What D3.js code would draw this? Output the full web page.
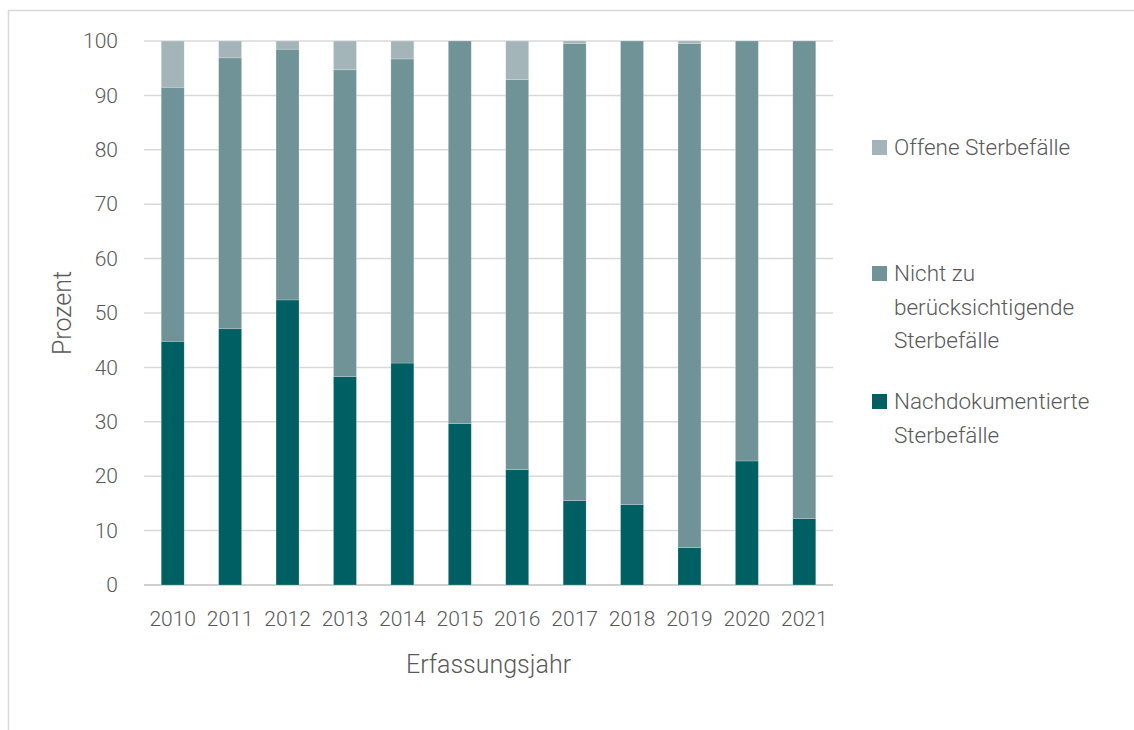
<!DOCTYPE html>
<html>
<head>
<meta charset="utf-8">
<script src="https://cdn.jsdelivr.net/npm/d3@7"></script>
<style>
  body { margin: 0; background: #fff; }
  text { font-family: Roboto, sans-serif; font-weight: 300; fill: #595959; }
</style>
</head>
<body>
<div id="chart"></div>
<script>
const years = ["2010","2011","2012","2013","2014","2015","2016","2017","2018","2019","2020","2021"];
const nachdokumentiert = [44.8, 47.1, 52.4, 38.3, 40.8, 29.7, 21.2, 15.5, 14.8, 6.9, 22.8, 12.2];
const nichtZuBeruecksichtigen = [46.7, 49.8, 46.1, 56.4, 55.9, 70.3, 71.7, 84.0, 85.2, 92.6, 77.2, 87.8];
const offen = [8.5, 3.1, 1.5, 5.3, 3.3, 0, 7.1, 0.5, 0, 0.5, 0, 0];
const yTicks = [0, 10, 20, 30, 40, 50, 60, 70, 80, 90, 100];
const seriesKeys = ["nach", "nicht", "offen"];
const seriesNames = {
  offen: ["Offene Sterbefälle"],
  nicht: ["Nicht zu", "berücksichtigende", "Sterbefälle"],
  nach: ["Nachdokumentierte", "Sterbefälle"]
};
const colors = { nach: "#005f62", nicht: "#6f9396", offen: "#a3b5b8" };

const width = 1134, height = 730;
const margin = { top: 41, left: 144, right: 301, bottom: 145 };

const svg = d3.select("#chart").append("svg")
  .attr("width", width)
  .attr("height", height);

// outer frame
svg.append("rect")
  .attr("x", 8.5).attr("y", 10.5)
  .attr("width", 1200).attr("height", 800)
  .attr("fill", "none").attr("stroke", "#d9d9d9").attr("stroke-width", 1.5);

const x = d3.scaleBand()
  .domain(years)
  .range([margin.left, width - margin.right])
  .paddingInner(0.6)
  .paddingOuter(0.3);

const y = d3.scaleLinear()
  .domain([0, 100])
  .range([height - margin.bottom, margin.top]);

// gridlines
svg.append("g")
  .selectAll("line")
  .data(yTicks)
  .join("line")
  .attr("x1", margin.left).attr("x2", width - margin.right)
  .attr("y1", d => y(d)).attr("y2", d => y(d))
  .attr("stroke", d => d === 0 ? "#d0d0d0" : "#d9d9d9")
  .attr("stroke-width", d => d === 0 ? 2 : 1.5);

const table = years.map((yr, i) => ({
  year: yr, nach: nachdokumentiert[i], nicht: nichtZuBeruecksichtigen[i], offen: offen[i]
}));
const stacked = d3.stack().keys(seriesKeys)(table);

svg.append("g")
  .selectAll("g")
  .data(stacked)
  .join("g")
  .attr("fill", d => colors[d.key])
  .selectAll("rect")
  .data(d => d)
  .join("rect")
  .attr("x", d => x(d.data.year))
  .attr("width", x.bandwidth())
  .attr("y", d => y(d[1]))
  .attr("height", d => y(d[0]) - y(d[1]))
  .attr("stroke", "rgba(255,255,255,0.35)")
  .attr("stroke-width", 0.6);

// y axis labels
const yAxis = d3.axisLeft(y).tickValues(yTicks).tickSize(0).tickPadding(26);
svg.append("g")
  .attr("transform", `translate(${margin.left},0)`)
  .call(yAxis)
  .call(g => g.select(".domain").remove())
  .selectAll("text")
  .attr("font-size", 21)
  .attr("font-family", "Roboto, sans-serif")
  .attr("fill", "#595959");

// x axis labels
const xAxis = d3.axisBottom(x).tickSize(0).tickPadding(26);
svg.append("g")
  .attr("transform", `translate(0,${height - margin.bottom})`)
  .call(xAxis)
  .call(g => g.select(".domain").remove())
  .selectAll("text")
  .attr("font-size", 21)
  .attr("font-family", "Roboto, sans-serif")
  .attr("fill", "#595959");

// axis titles
svg.append("text")
  .attr("x", (margin.left + width - margin.right) / 2)
  .attr("y", 673)
  .attr("text-anchor", "middle")
  .attr("font-size", 25)
  .text("Erfassungsjahr");

svg.append("text")
  .attr("transform", `translate(71,${(margin.top + height - margin.bottom) / 2}) rotate(-90)`)
  .attr("text-anchor", "middle")
  .attr("font-size", 25)
  .text("Prozent");

// legend
const legendItems = [
  { key: "offen", top: 147 },
  { key: "nicht", top: 273 },
  { key: "nach", top: 401 }
];
const legend = svg.append("g");
legendItems.forEach(item => {
  legend.append("rect")
    .attr("x", 872).attr("y", item.top - 7)
    .attr("width", 15).attr("height", 15)
    .attr("fill", colors[item.key]);
  const t = legend.append("text")
    .attr("x", 894).attr("y", item.top + 8)
    .attr("font-size", 22.5);
  seriesNames[item.key].forEach((line, i) => {
    t.append("tspan").attr("x", 894).attr("dy", i === 0 ? 0 : 33.5).text(line);
  });
});
</script>
</body>
</html>
